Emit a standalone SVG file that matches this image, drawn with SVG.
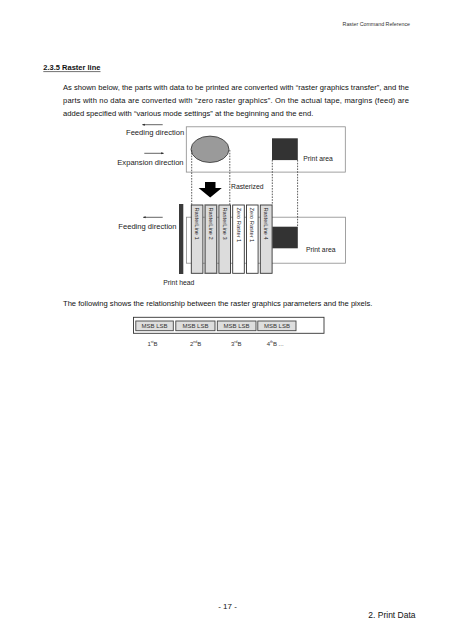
<svg xmlns="http://www.w3.org/2000/svg" width="453" height="640" viewBox="0 0 453 640">
<style>
text{font-family:"Liberation Sans",Arial,sans-serif;fill:#111}
.body{font-size:7.6px}
.lbl{font-size:7.6px;fill:#222}
.sm{font-size:6.8px;fill:#222}
.rl{font-size:5.7px;fill:#222}
.frame{fill:none;stroke:#8a8a8a;stroke-width:0.8}
.dash{fill:none;stroke:#333;stroke-width:0.8;stroke-dasharray:1.6,1.2}
.thin{fill:none;stroke:#222;stroke-width:0.7}
.blk{fill:#dcdcdc;stroke:#333;stroke-width:0.9}
.zero{fill:#fff;stroke:#333;stroke-width:0.9}
.msb{fill:#dedede;stroke:#444;stroke-width:0.9}
.msbt{font-size:6px;fill:#333}
</style>
<defs>
<marker id="ah" viewBox="0 0 6 6" refX="5" refY="3" markerWidth="4" markerHeight="4" orient="auto-start-reverse">
<path d="M0,0.8 L6,3 L0,5.2 Z" fill="#222"/>
</marker>
</defs>

<g id="page-text">
<text x="410" y="26" text-anchor="end" style="font-size:5.3px;fill:#333">Raster Command Reference</text>
<text x="43.3" y="70" style="font-size:7.5px;font-weight:bold">2.3.5 Raster line</text>
<line x1="43.3" y1="71.6" x2="100.5" y2="71.6" stroke="#111" stroke-width="0.6"/>
<text class="body" x="63" y="90" textLength="346" lengthAdjust="spacing">As shown below, the parts with data to be printed are converted with “raster graphics transfer”, and the</text>
<text class="body" x="63" y="103" textLength="346" lengthAdjust="spacing">parts with no data are converted with “zero raster graphics”. On the actual tape, margins (feed) are</text>
<text class="body" x="63" y="116">added specified with “various mode settings” at the beginning and the end.</text>
<text class="body" x="63" y="306">The following shows the relationship between the raster graphics parameters and the pixels.</text>
<text x="227.5" y="608.5" text-anchor="middle" style="font-size:8px">- 17 -</text>
<text x="368.3" y="618" style="font-size:8.5px">2. Print Data</text>
</g>

<g id="top-frame">
<rect class="frame" x="186.3" y="126.8" width="159" height="45.3"/>
</g>
<g id="ellipse-shape">
<ellipse cx="210" cy="149.3" rx="19" ry="13.2" fill="#9a9a9a" stroke="#333" stroke-width="0.8"/>
</g>
<g id="square-shape">
<rect x="272" y="138.3" width="25.8" height="21.8" fill="#333"/>
</g>
<g id="top-labels">
<text class="lbl" x="126" y="134.8">Feeding direction</text>
<text class="lbl" x="117.3" y="164.5">Expansion direction</text>
<text class="sm" x="303.3" y="161.3">Print area</text>
<text class="sm" x="231" y="189">Rasterized</text>
</g>

<g id="rasterize-arrow">
<polygon points="205,182 215.5,182 215.5,188 221.8,188 210.2,197.5 198.6,188 205,188" fill="#000"/>
</g>

<g id="bottom-frame">
<rect class="frame" x="186.5" y="217.2" width="159" height="46"/>
</g>
<g id="print-head">
<rect x="179" y="204" width="4.3" height="70" fill="#3a3a3a"/>
<text class="sm" x="163.3" y="285">Print head</text>
</g>
<g id="bottom-labels">
<text class="lbl" x="118.3" y="229.2">Feeding direction</text>
<text class="sm" x="306" y="251.8">Print area</text>
</g>
<g id="bottom-square">
<rect x="272.3" y="226.7" width="25.5" height="21.6" fill="#333"/>
</g>

<g id="raster-line-1">
<rect class="blk" x="191.3" y="205" width="11.6" height="68.3"/>
<text class="rl" transform="translate(197.1,207.5) rotate(90)" y="2">RasterLine 1</text>
</g>
<g id="raster-line-2">
<rect class="blk" x="205.1" y="205" width="11.6" height="68.3" style="stroke:#666;stroke-width:1.4"/>
<text class="rl" transform="translate(210.9,207.5) rotate(90)" y="2">RasterLine 2</text>
</g>
<g id="raster-line-3">
<rect class="blk" x="218.9" y="205" width="11.6" height="68.3"/>
<text class="rl" transform="translate(224.7,207.5) rotate(90)" y="2">RasterLine 3</text>
</g>
<g id="zero-raster-1a">
<rect class="zero" x="232.7" y="205" width="11.6" height="68.3"/>
<text class="rl" transform="translate(238.5,207.5) rotate(90)" y="2">Zero Raster 1</text>
</g>
<g id="zero-raster-1b">
<rect class="zero" x="246.5" y="205" width="11.6" height="68.3"/>
<text class="rl" transform="translate(252.3,207.5) rotate(90)" y="2">Zero Raster 1</text>
</g>
<g id="raster-line-4">
<rect class="blk" x="260.3" y="205" width="11.8" height="68.3"/>
<text class="rl" transform="translate(266.2,207.5) rotate(90)" y="2">RasterLine 4</text>
</g>

<g id="connectors">
<line class="thin" x1="162.7" y1="124.7" x2="142.5" y2="124.7" marker-end="url(#ah)"/>
<line class="thin" x1="144.3" y1="153.3" x2="163.5" y2="153.3" marker-end="url(#ah)"/>
<line class="thin" x1="162.7" y1="217.3" x2="143.3" y2="217.3" marker-end="url(#ah)"/>
<line class="dash" x1="191.7" y1="150" x2="191.7" y2="205"/>
<line class="dash" x1="229.8" y1="150" x2="229.8" y2="205"/>
<line class="dash" x1="272.3" y1="160" x2="272.3" y2="205"/>
<line class="dash" x1="297.6" y1="160" x2="297.6" y2="226.7"/>
</g>

<g id="byte-row">
<rect x="133.5" y="317.3" width="190.5" height="16" fill="#fff" stroke="#333" stroke-width="0.9"/>
<rect class="msb" x="135.8" y="321" width="37.5" height="9.7"/>
<rect class="msb" x="175.8" y="321" width="39.2" height="9.7"/>
<rect class="msb" x="217.3" y="321" width="38.7" height="9.7"/>
<rect class="msb" x="257.8" y="321" width="38.2" height="9.7"/>
<text class="msbt" x="154.5" y="328.3" text-anchor="middle">MSB LSB</text>
<text class="msbt" x="195.4" y="328.3" text-anchor="middle">MSB LSB</text>
<text class="msbt" x="236.6" y="328.3" text-anchor="middle">MSB LSB</text>
<text class="msbt" x="276.9" y="328.3" text-anchor="middle">MSB LSB</text>
<text class="msbt" x="147.5" y="345.5">1<tspan dy="-2.3" style="font-size:3.5px">st</tspan><tspan dy="2.3">B</tspan></text>
<text class="msbt" x="190" y="345.5">2<tspan dy="-2.3" style="font-size:3.5px">nd</tspan><tspan dy="2.3">B</tspan></text>
<text class="msbt" x="231" y="345.5">3<tspan dy="-2.3" style="font-size:3.5px">rd</tspan><tspan dy="2.3">B</tspan></text>
<text class="msbt" x="266.7" y="345.5">4<tspan dy="-2.3" style="font-size:3.5px">th</tspan><tspan dy="2.3">B ...</tspan></text>
</g>
</svg>
